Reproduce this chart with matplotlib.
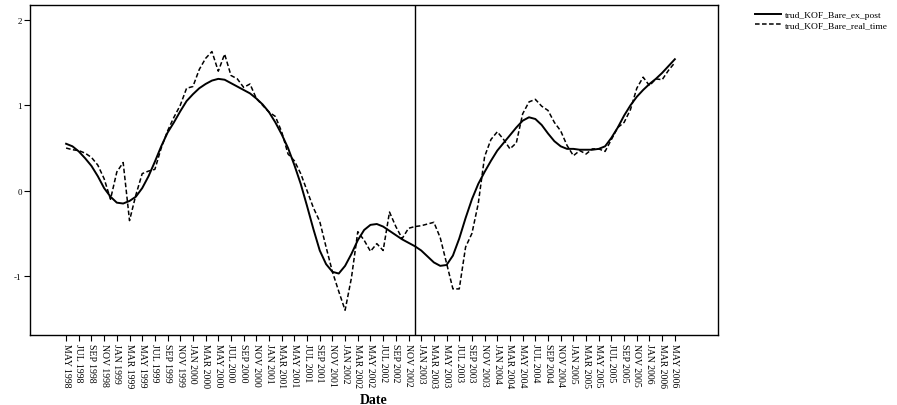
import pandas as pd
import matplotlib
matplotlib.use("Agg")
import matplotlib.pyplot as plt

plt.rcParams["font.family"] = ["Liberation Serif", "DejaVu Serif"]

# monthly series, May 1998 .. May 2006
months = pd.date_range("1998-05-01", "2006-05-01", freq="MS")

ex_post = [
    0.55, 0.52, 0.46, 0.38, 0.29, 0.17, 0.03, -0.07, -0.14, -0.15,
    -0.12, -0.07, 0.03, 0.17, 0.34, 0.52, 0.68, 0.80, 0.93, 1.05,
    1.13, 1.20, 1.25, 1.29, 1.31, 1.30, 1.26, 1.22, 1.18, 1.14,
    1.08, 1.01, 0.92, 0.80, 0.66, 0.50, 0.30, 0.08, -0.18, -0.45,
    -0.70, -0.86, -0.95, -0.97, -0.88, -0.74, -0.58, -0.46, -0.40, -0.39,
    -0.42, -0.47, -0.52, -0.57, -0.61, -0.65, -0.70, -0.77, -0.84, -0.88,
    -0.87, -0.76, -0.56, -0.32, -0.10, 0.08, 0.22, 0.35, 0.47, 0.56,
    0.65, 0.74, 0.82, 0.86, 0.84, 0.77, 0.67, 0.58, 0.52, 0.49,
    0.49, 0.48, 0.48, 0.48, 0.49, 0.52, 0.62, 0.74, 0.88, 1.00,
    1.10, 1.18, 1.25, 1.31, 1.38, 1.46, 1.54,
]

real_time = [
    0.50, 0.48, 0.47, 0.44, 0.39, 0.30, 0.14, -0.10, 0.22, 0.33,
    -0.35, -0.05, 0.20, 0.23, 0.25, 0.50, 0.70, 0.86, 1.00, 1.20,
    1.22, 1.42, 1.55, 1.63, 1.40, 1.60, 1.35, 1.31, 1.21, 1.25,
    1.08, 1.00, 0.92, 0.87, 0.69, 0.43, 0.35, 0.20, 0.00, -0.20,
    -0.36, -0.66, -0.95, -1.18, -1.40, -1.02, -0.48, -0.58, -0.71, -0.62,
    -0.70, -0.25, -0.42, -0.56, -0.44, -0.42, -0.41, -0.39, -0.37, -0.55,
    -0.85, -1.15, -1.15, -0.66, -0.50, -0.15, 0.40, 0.60, 0.69, 0.60,
    0.49, 0.56, 0.90, 1.04, 1.07, 0.99, 0.94, 0.80, 0.70, 0.53,
    0.41, 0.47, 0.43, 0.49, 0.49, 0.46, 0.60, 0.74, 0.80, 0.95,
    1.20, 1.33, 1.23, 1.31, 1.30, 1.41, 1.50,
]

break_month = pd.Timestamp("2002-12-01")
y_ticks = [2, 1, 0, -1]

x = list(range(len(months)))
tick_pos = x[::2]
tick_labels = [d.strftime("%b %Y").upper() for d in months[::2]]
break_x = list(months).index(break_month)

fig = plt.figure(figsize=(8.97, 4.06), dpi=100)
ax = fig.add_axes([0.0334, 0.1724, 0.767, 0.8128])

ax.plot(x, ex_post, color="black", lw=1.4, label="trud_KOF_Bare_ex_post")
ax.plot(x, real_time, color="black", lw=1.1, linestyle=(0, (3, 1.6)),
        label="trud_KOF_Bare_real_time")
ax.axvline(break_x, color="black", lw=1.0)

ax.set_xlim(-5.7, 102.8)
ax.set_ylim(-1.69, 2.175)
ax.set_xticks(tick_pos)
ax.set_xticklabels(tick_labels, rotation=270, fontsize=7)
ax.set_yticks(y_ticks)
ax.set_yticklabels([str(v) for v in y_ticks], fontsize=6.5)
ax.tick_params(axis="both", direction="out", length=4, width=0.8, pad=2)
ax.set_xlabel("Date", fontsize=10, fontweight="bold", labelpad=4)
for s in ax.spines.values():
    s.set_linewidth(1.0)

ax.legend(loc="upper left", bbox_to_anchor=(1.045, 1.0), frameon=False,
          fontsize=6.8, handlelength=2.8, handletextpad=0.45, labelspacing=0.15,
          borderaxespad=0.2)

fig.savefig("out.png", dpi=100)
